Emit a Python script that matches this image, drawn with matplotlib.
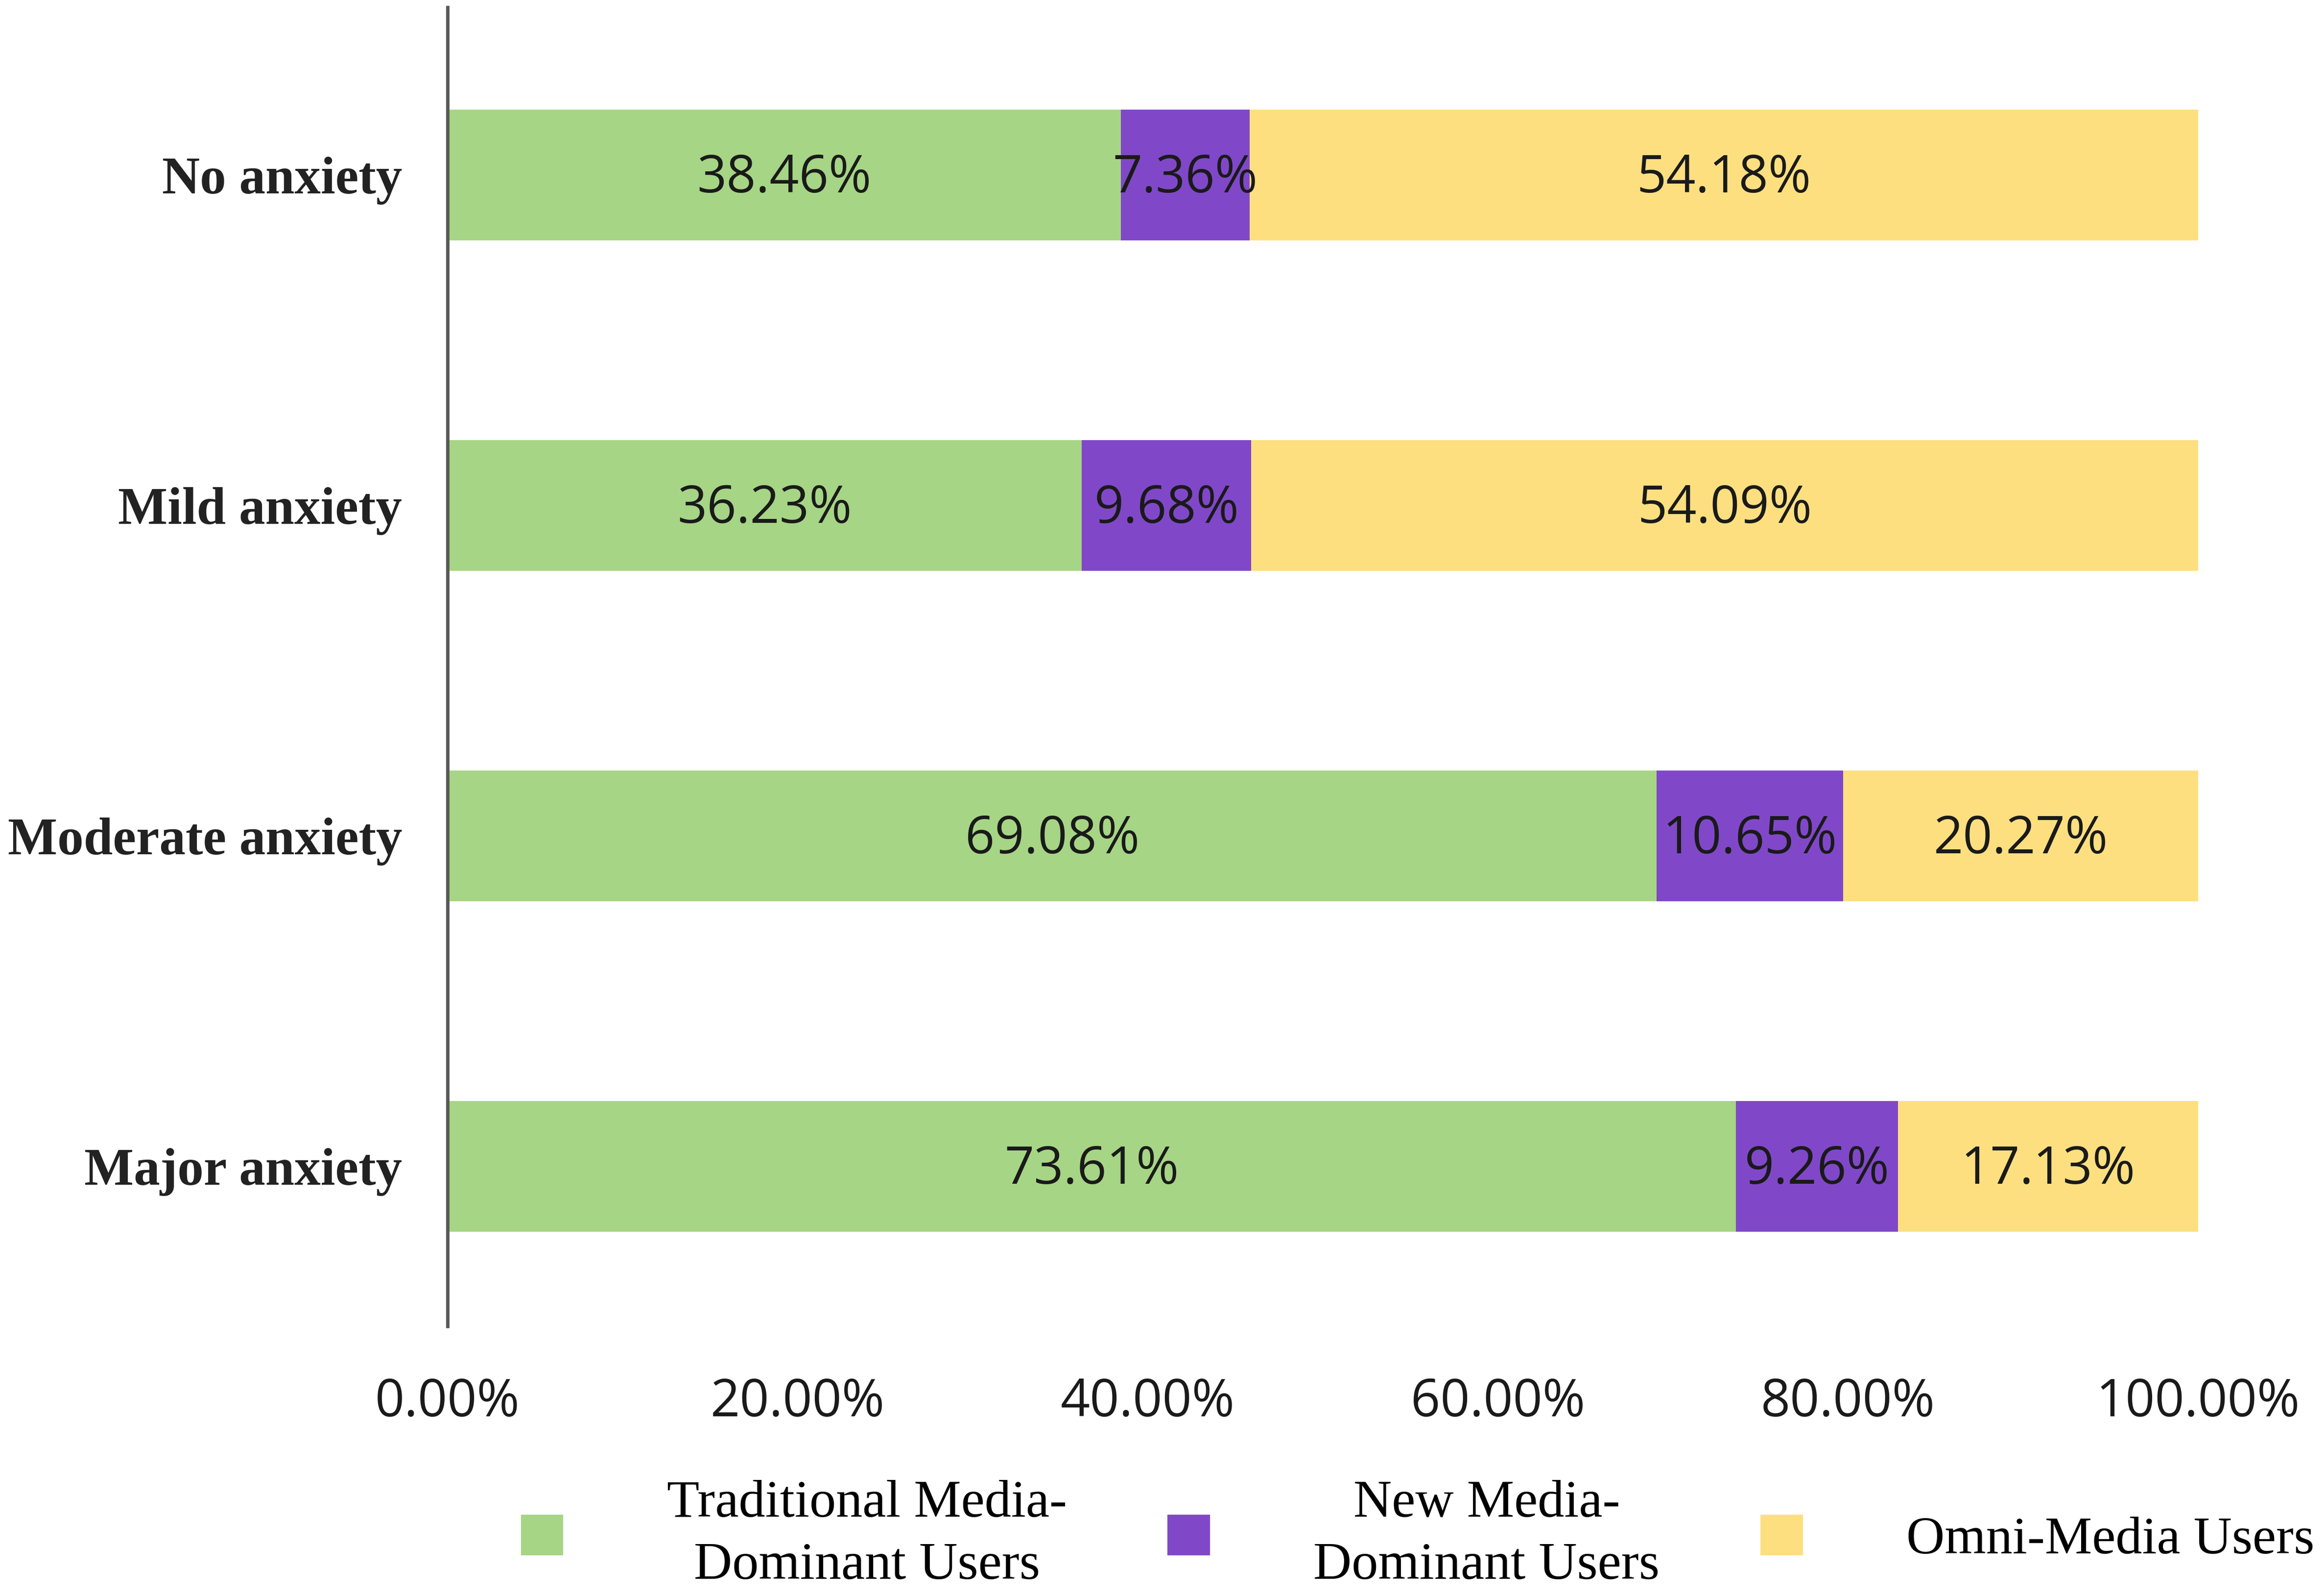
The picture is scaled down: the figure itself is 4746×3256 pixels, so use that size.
import matplotlib
matplotlib.use("Agg")
import matplotlib.pyplot as plt
import numpy as np

categories = ["No anxiety", "Mild anxiety", "Moderate anxiety", "Major anxiety"]
series_names = ["Traditional Media-\nDominant Users", "New Media-\nDominant Users", "Omni-Media Users"]
traditional = [38.46, 36.23, 69.08, 73.61]
new_media = [7.36, 9.68, 10.65, 9.26]
omni = [54.18, 54.09, 20.27, 17.13]
xticks = [0, 20, 40, 60, 80, 100]
xtick_labels = ["0.00%", "20.00%", "40.00%", "60.00%", "80.00%", "100.00%"]
colors = ["#A6D585", "#8048C8", "#FDDF80"]

fig = plt.figure(figsize=(47.46, 32.56), dpi=100)
ax = fig.add_axes([0.1926, 0.168, 0.7532, 0.8274])

y = np.arange(len(categories))
left = np.zeros(len(categories))
handles = []
for vals, name, col in zip([traditional, new_media, omni], series_names, colors):
    bars = ax.barh(y, vals, left=left, height=0.395, color=col, label=name)
    handles.append(bars)
    for yi, l, v in zip(y, left, vals):
        ax.text(l + v / 2, yi + 0.012, f"{v:.2f}%", ha="center", va="center",
                fontsize=76, family="Open Sans", color="#1a1a1a")
    left = left + np.array(vals)

ax.set_xlim(0, 100)
ax.set_ylim(3.484, -0.507)
ax.set_yticks(y)
ax.set_yticklabels(categories, family="Liberation Serif", fontweight="bold",
                   fontsize=77, color="#222222")
ax.set_xticks(xticks)
ax.set_xticklabels(xtick_labels, family="Open Sans", fontsize=76, color="#1a1a1a")
ax.tick_params(axis="both", length=0)
ax.tick_params(axis="x", pad=74)
ax.tick_params(axis="y", pad=67)
for s in ["top", "right", "bottom"]:
    ax.spines[s].set_visible(False)
ax.spines["left"].set_color("#595959")
ax.spines["left"].set_linewidth(5)

leg = fig.legend(handles=handles, labels=series_names, loc="center",
                 bbox_to_anchor=(0.61, 0.037), ncol=3, frameon=False,
                 prop={"family": "Liberation Serif", "size": 78},
                 handlelength=0.8, handleheight=0.8, handletextpad=1.95,
                 columnspacing=1.9)
for t in leg.get_texts():
    t.set_multialignment("center")
    t.set_linespacing(1.38)

fig.savefig("out.png", dpi=100)
